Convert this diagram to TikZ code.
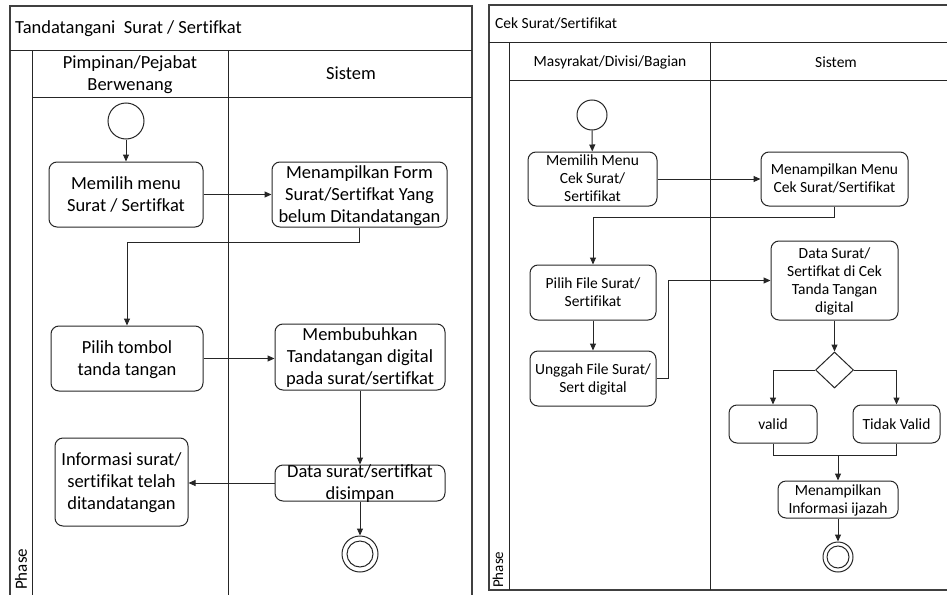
\documentclass[tikz,border=0pt]{standalone}
\usepackage{fontspec}
\setmainfont{Carlito}[Ligatures=NoCommon]
\usetikzlibrary{arrows.meta,shapes.geometric}
\newcommand\tx[1]{\smash{\raisebox{-0.3em}{\begin{tabular}{@{}c@{}}#1\end{tabular}}}}
\begin{document}
\begin{tikzpicture}[x=1pt,y=-1pt,
  frame/.style={line width=1.4pt, draw=black!75},
  lane/.style={line width=1pt, draw=black!85},
  act/.style={draw=black!85, line width=1pt, rounded corners=8pt, inner sep=0pt},
  lf/.style={font=\fontsize{18.5}{22}\selectfont},
  rf/.style={font=\fontsize{15.5}{18}\selectfont},
  arr/.style={draw=black!85, line width=1pt, -{Triangle[length=7pt,width=6pt]}},
  ln/.style={draw=black!85, line width=1pt},
  startc/.style={circle, draw=black!85, line width=1pt, inner sep=0pt},
  dec/.style={diamond, draw=black!85, line width=1pt, inner sep=0pt}
]
\useasboundingbox (0,0) rectangle (947,594);

% ---------------- left diagram ----------------
\draw[frame] (10,600) -- (10,6) -- (472,6) -- (472,600);
\draw[lane] (10,51) -- (472,51);
\draw[lane] (32,97) -- (472,97);
\draw[lane] (32,51) -- (32,600);
\draw[lane] (228,51) -- (228,600);
\node[lf, anchor=west, inner sep=0pt] (ltitle) at (15,29) {Tandatangani\ \ Surat / Sertifkat};
\node[lf, inner sep=0pt] (lh1) at (130,74) {\tx{Pimpinan/Pejabat\\Berwenang}};
\node[lf, inner sep=0pt] (lh2) at (351,73) {Sistem};
\node[font=\fontsize{17}{20}\selectfont, rotate=90, anchor=west, inner sep=0pt] (lphase) at (21,590) {Phase};

\node[startc, minimum size=36pt] (ls) at (126,121) {};
\node[act, lf, minimum width=154pt, minimum height=65pt] (b1) at (126,194.5) {\tx{Memilih menu\\Surat / Sertifkat}};
\node[act, lf, minimum width=175pt, minimum height=65pt] (b2) at (359.5,194.5) {\tx{Menampilkan Form\\Surat/Sertifkat Yang\\belum Ditandatangan}};
\node[act, lf, minimum width=152pt, minimum height=65pt] (b3) at (127,358.5) {\tx{Pilih tombol\\tanda tangan}};
\node[act, lf, minimum width=170pt, minimum height=66pt] (b4) at (360,357) {\tx{Membubuhkan\\Tandatangan digital\\pada surat/sertifkat}};
\node[act, lf, minimum width=170pt, minimum height=36pt] (b5) at (360,483) {\tx{Data surat/sertifkat\\disimpan}};
\node[act, lf, minimum width=133pt, minimum height=88pt] (b6) at (121.5,482) {\tx{Informasi surat/\\sertifikat telah\\ditandatangan}};
\node[startc, minimum size=36pt] (le) at (360,554) {};
\draw[ln] (le.center) circle[radius=13pt];

\draw[arr] (ls) -- (b1);
\draw[arr] (b1) -- (b2);
\draw[arr] (b2.south) -- ++(0,15) -| (b3.north);
\draw[arr] (b3.east) -- (b4.west |- b3.east);
\draw[arr] (b4) -- (b5);
\draw[arr] (b5.west) -- (b6.east |- b5.west);
\draw[arr] (b5) -- (le);

% ---------------- right diagram ----------------
\draw[frame] (950,5) -- (489,5) -- (489,590) -- (950,590);
\draw[lane] (489,43) -- (950,43);
\draw[lane] (509,80) -- (950,80);
\draw[lane] (509,43) -- (509,590);
\draw[lane] (710,43) -- (710,590);
\node[rf, anchor=west, inner sep=0pt] (rtitle) at (495,23) {Cek Surat/Sertifikat};
\node[rf, inner sep=0pt] (rh1) at (610,62) {Masyrakat/Divisi/Bagian};
\node[rf, inner sep=0pt] (rh2) at (836,62) {Sistem};
\node[font=\fontsize{15}{18}\selectfont, rotate=90, anchor=west, inner sep=0pt] (rphase) at (498,588) {Phase};

\node[startc, minimum size=30pt] (rs) at (592,115) {};
\node[act, rf, minimum width=129pt, minimum height=54pt] (r1) at (592.5,179) {\tx{Memilih Menu\\Cek Surat/\\Sertifikat}};
\node[act, rf, minimum width=147pt, minimum height=54pt] (r2) at (834.5,179) {\tx{Menampilkan Menu\\Cek Surat/Sertifikat}};
\node[act, rf, minimum width=126pt, minimum height=55pt] (r3) at (593,292.5) {\tx{Pilih File Surat/\\Sertifikat}};
\node[act, rf, minimum width=127pt, minimum height=79pt] (r4) at (834.5,280.5) {\tx{Data Surat/\\Sertifkat di Cek\\Tanda Tangan\\digital}};
\node[act, rf, minimum width=126pt, minimum height=55pt] (r5) at (593,378.5) {\tx{Unggah File Surat/\\Sert digital}};
\node[dec, minimum width=38pt, minimum height=36pt] (d) at (834.5,370) {};
\node[act, rf, minimum width=88pt, minimum height=38pt] (v) at (773,424) {valid};
\node[act, rf, minimum width=87pt, minimum height=38pt] (tv) at (896.5,424) {Tidak Valid};
\node[act, rf, minimum width=120pt, minimum height=37pt] (r6) at (838,499.5) {\tx{Menampilkan\\Informasi ijazah}};
\node[startc, minimum size=30pt] (re) at (838,557) {};
\draw[ln] (re.center) circle[radius=11pt];
\coordinate (m) at (838,455);

\draw[arr] (rs) -- (r1);
\draw[arr] (r1) -- (r2);
\draw[arr] (r2.south) -- ++(0,11) -| (r3.north);
\draw[arr] (r3) -- (r5);
\draw[arr] (r5.east) -- ++(12,0) |- (r4.west);
\draw[arr] (r4) -- (d);
\draw[arr] (d.west) -| (v.north);
\draw[arr] (d.east) -| (tv.north);
\draw[ln] (v.south) -- (v.south |- m) -- (tv.south |- m) -- (tv.south);
\draw[arr] (m) -- (r6.north -| m);
\draw[arr] (r6.south -| re) -- (re);
\end{tikzpicture}
\end{document}
